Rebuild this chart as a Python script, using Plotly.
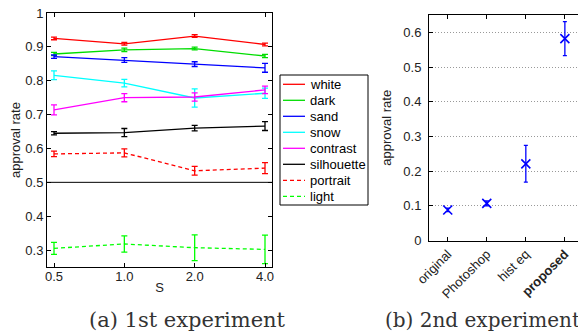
import plotly.graph_objects as go

# ---- data: experiment 1 ----
s_vals = [0.5, 1.0, 2.0, 4.0]
s_labels = ["0.5", "1.0", "2.0", "4.0"]
series_names = ["white", "dark", "sand", "snow", "contrast", "silhouette", "portrait", "light"]
white = [0.925, 0.909, 0.932, 0.907]
white_err = [0.004, 0.004, 0.004, 0.004]
dark = [0.879, 0.891, 0.895, 0.873]
dark_err = [0.005, 0.005, 0.004, 0.005]
sand = [0.871, 0.861, 0.849, 0.838]
sand_err = [0.005, 0.007, 0.007, 0.013]
snow = [0.816, 0.793, 0.749, 0.763]
snow_err = [0.013, 0.011, 0.027, 0.015]
contrast = [0.714, 0.750, 0.752, 0.773]
contrast_err = [0.015, 0.012, 0.012, 0.011]
silhouette = [0.645, 0.647, 0.660, 0.666]
silhouette_err = [0.005, 0.012, 0.008, 0.013]
portrait = [0.584, 0.587, 0.534, 0.542]
portrait_err = [0.008, 0.012, 0.013, 0.016]
light = [0.305, 0.318, 0.307, 0.302]
light_err = [0.018, 0.024, 0.038, 0.042]
colors = ["#ff0000", "#00dd00", "#0000ff", "#00ffff", "#ff00ff", "#000000", "#ff0000", "#00ff00"]
dashes = ["solid"] * 6 + ["dash", "dash"]

# ---- data: experiment 2 ----
methods = ["original", "Photoshop", "hist eq", "<b>proposed</b>"]
rate2 = [0.088, 0.107, 0.221, 0.582]
rate2_err = [0.005, 0.007, 0.053, 0.049]

left_y_ticks = [0.3, 0.4, 0.5, 0.6, 0.7, 0.8, 0.9, 1.0]
left_y_labels = ["0.3", "0.4", "0.5", "0.6", "0.7", "0.8", "0.9", "1"]
right_y_ticks = [0, 0.1, 0.2, 0.3, 0.4, 0.5, 0.6]
right_y_labels = ["0", "0.1", "0.2", "0.3", "0.4", "0.5", "0.6"]

W, H = 586, 332
OFF = 8  # default page body margin
def px(x):
    return (x - OFF) / W
def py(y):
    return 1 - (y - OFF) / H

DASH = "4px,3px"

fig = go.Figure()
vals = [white, dark, sand, snow, contrast, silhouette, portrait, light]
errs = [white_err, dark_err, sand_err, snow_err, contrast_err, silhouette_err, portrait_err, light_err]
for name, v, e, c, d in zip(series_names, vals, errs, colors, dashes):
    fig.add_trace(go.Scatter(
        x=s_vals, y=v, name=name, mode="lines", showlegend=False,
        line=dict(color=c, width=1.3, dash="solid" if d == "solid" else DASH),
        error_y=dict(type="data", array=e, color=c, thickness=1.3, width=3),
        xaxis="x", yaxis="y"))

fig.add_trace(go.Scatter(
    x=methods, y=rate2, mode="markers", showlegend=False,
    marker=dict(symbol="x-thin", size=9, line=dict(color="#0000ff", width=1.6), color="#0000ff"),
    error_y=dict(type="data", array=rate2_err, color="#0000ff", thickness=1.3, width=2),
    xaxis="x2", yaxis="y2"))

FAM = "Liberation Sans, Arial, sans-serif"
font = dict(family=FAM, size=13, color="#222")
axis_common = dict(showline=True, linecolor="black", linewidth=1, mirror="ticks",
                   ticks="inside", ticklen=4, tickcolor="black", zeroline=False,
                   automargin=False, ticklabeloverflow="allow",
                   tickfont=dict(family=FAM, size=13, color="#222"))

# legend box (drawn as shapes + text, matching the compact MATLAB-style legend)
leg_x0, leg_x1, leg_y0, leg_y1 = 280, 368, 75, 205
shapes = [dict(type="line", xref="x domain", yref="y", x0=0, x1=1, y0=0.5, y1=0.5,
               line=dict(color="black", width=1)),
          dict(type="rect", xref="paper", yref="paper", x0=px(leg_x0), x1=px(leg_x1),
               y0=py(leg_y1), y1=py(leg_y0), line=dict(color="black", width=1),
               fillcolor="white", layer="above")]
annotations = []
for i, (name, c, d) in enumerate(zip(series_names, colors, dashes)):
    yy = 84.3 + 16 * i
    shapes.append(dict(type="line", xref="paper", yref="paper", x0=px(283), x1=px(305),
                       y0=py(yy), y1=py(yy), layer="above",
                       line=dict(color=c, width=1.3, dash="solid" if d == "solid" else DASH)))
    annotations.append(dict(text=name, x=px(307.5), y=py(yy), xref="paper", yref="paper",
                            xanchor="left", yanchor="middle", showarrow=False,
                            font=dict(family=FAM, size=13, color="black")))

annotations += [
    dict(text="(a) 1st experiment", x=px(187.5), y=py(320), xref="paper", yref="paper",
         xanchor="center", yanchor="middle", showarrow=False,
         font=dict(family="DejaVu Serif, serif", size=21, color="#333")),
    dict(text="(b) 2nd experiment", x=px(482), y=py(320), xref="paper", yref="paper",
         xanchor="center", yanchor="middle", showarrow=False,
         font=dict(family="DejaVu Serif, serif", size=20, color="#333")),
]

fig.update_layout(
    width=W, height=H, margin=dict(l=0, r=0, t=0, b=0, autoexpand=False),
    paper_bgcolor="white", plot_bgcolor="white", font=font, showlegend=False,
    xaxis=dict(domain=[px(47), px(272)], type="log", range=[-0.331, 0.632],
               tickvals=s_vals, ticktext=s_labels, showgrid=False, anchor="y",
               ticklabelstandoff=-3,
               title=dict(text="S", standoff=0, font=dict(size=13)), **axis_common),
    yaxis=dict(domain=[py(267), py(13)], range=[0.25, 1.0], tickvals=left_y_ticks,
               ticktext=left_y_labels, showgrid=False, anchor="x",
               title=dict(text="approval rate", standoff=4, font=dict(size=13)), **axis_common),
    xaxis2=dict(domain=[px(429), px(584)], type="category", range=[-0.48, 3.49],
                tickangle=-45, showgrid=False, anchor="y2", **axis_common),
    yaxis2=dict(domain=[py(240.5), py(15)], range=[0, 0.65], tickvals=right_y_ticks,
                ticktext=right_y_labels, showgrid=True, gridcolor="#999999", griddash="1px,2px",
                gridwidth=1, anchor="x2", ticklabelstandoff=4,
                title=dict(text="approval rate", standoff=8, font=dict(size=13)), **axis_common),
    shapes=shapes,
    annotations=annotations,
)

fig.write_html("out.html")
